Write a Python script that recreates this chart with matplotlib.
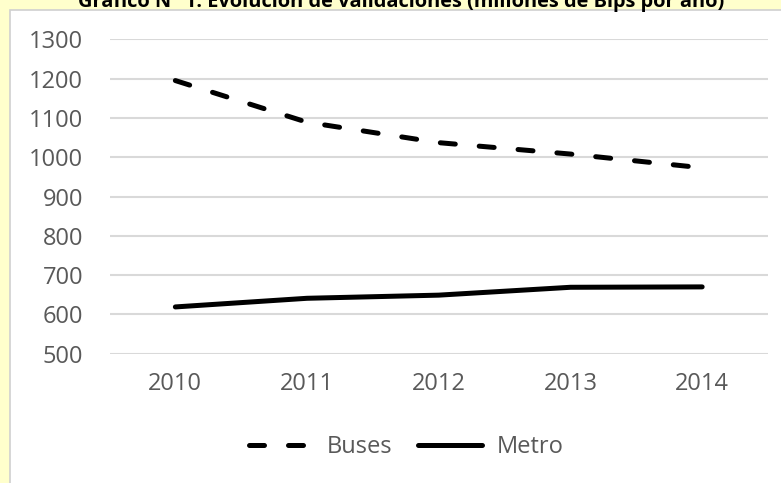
import matplotlib.pyplot as plt
from matplotlib.patches import Rectangle

# Data
years = ['2010', '2011', '2012', '2013', '2014']
buses = [1195, 1089, 1037, 1008, 973]
metro = [619, 641, 649, 669, 670]
y_ticks = [500, 600, 700, 800, 900, 1000, 1100, 1200, 1300]
title = 'Gráfico N° 1: Evolución de validaciones (millones de Bips por año)'

W, H = 781, 483
plt.rcParams['font.family'] = ['Open Sans', 'DejaVu Sans']

fig = plt.figure(figsize=(W / 100, H / 100), dpi=100, facecolor='#FFFFCC')

# white chart area with thin grey border, top-left corner at (10, 10)
fig.patches.append(Rectangle((10 / W, -0.01), 1, 1.01 - 10 / H, transform=fig.transFigure,
                             facecolor='white', edgecolor='#D0D0D0', lw=1.2, zorder=-5))

# title sits above the image edge, only its lower part shows
fig.text(401 / W, 1 - 7 / H, title, ha='center', va='baseline', fontsize=14.4,
         fontweight='bold', color='black')

ax = fig.add_axes([109.5 / W, (H - 353.7) / H, (768 - 109.5) / W, (353.7 - 39.3) / H])
ax.set_facecolor('white')
x = range(len(years))
lw = 3.6
ax.plot(x, buses, color='black', lw=lw, dashes=(3, 4.8), dash_capstyle='round',
        solid_capstyle='round', label='Buses', clip_on=False)
ax.plot(x, metro, color='black', lw=lw, solid_capstyle='round', label='Metro', clip_on=False)

ax.set_xlim(-0.5, len(years) - 0.5)
ax.set_ylim(500, 1300)
ax.set_yticks(y_ticks)
ax.set_xticks(list(x))
ax.set_xticklabels(years)
ax.grid(axis='y', color='#D9D9D9', lw=1.5)
ax.set_axisbelow(True)
for s in ax.spines.values():
    s.set_visible(False)
ax.tick_params(length=0, labelsize=17, colors='#595959')
ax.tick_params(axis='y', pad=19)
ax.tick_params(axis='x', pad=13)

fig.legend(loc='center', bbox_to_anchor=(406 / W, 1 - 447 / H), ncol=2, frameon=False,
           fontsize=17, labelcolor='#595959', handlelength=2.7, handletextpad=0.6,
           columnspacing=1.1)

fig.savefig('out.png', dpi=100, facecolor=fig.get_facecolor())
